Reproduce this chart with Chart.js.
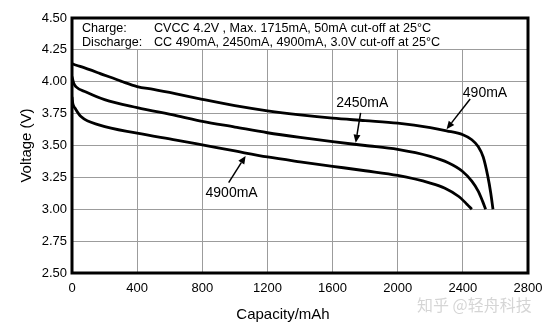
<!DOCTYPE html>
<html>
<head>
<meta charset="utf-8">
<script src="https://cdn.jsdelivr.net/npm/chart.js@4/dist/chart.umd.min.js"></script>
<style>
  html, body { margin: 0; padding: 0; background: #fff; }
  #wrap { width: 553px; height: 329px; position: relative; }
</style>
</head>
<body>
<div id="wrap"><canvas id="c" width="553" height="329"></canvas></div>
<script>
// ---- data ----
const cap490 = [0, 50, 170, 300, 400, 500, 640, 800, 1000, 1200, 1400, 1600, 1800, 2000, 2200, 2300, 2400, 2455, 2495, 2525, 2553, 2571, 2585];
const volt490 = [4.14, 4.12, 4.066, 4.005, 3.962, 3.94, 3.905, 3.862, 3.812, 3.772, 3.74, 3.714, 3.695, 3.675, 3.64, 3.615, 3.584, 3.545, 3.49, 3.41, 3.26, 3.13, 3.00];

const cap2450 = [0, 10, 25, 86, 200, 400, 640, 800, 1000, 1200, 1400, 1600, 1800, 2000, 2200, 2310, 2395, 2455, 2495, 2522, 2540];
const volt2450 = [4.04, 3.99, 3.96, 3.92, 3.86, 3.797, 3.735, 3.69, 3.645, 3.60, 3.563, 3.53, 3.50, 3.47, 3.415, 3.365, 3.30, 3.22, 3.14, 3.06, 3.00];

const cap4900 = [0, 5, 20, 55, 170, 400, 640, 800, 1000, 1200, 1400, 1600, 1800, 2000, 2200, 2290, 2375, 2425, 2455];
const volt4900 = [3.88, 3.83, 3.79, 3.727, 3.66, 3.597, 3.543, 3.505, 3.457, 3.41, 3.372, 3.337, 3.302, 3.265, 3.205, 3.165, 3.10, 3.04, 3.00];

const seriesNames = ['490mA', '2450mA', '4900mA'];
const xTicks = [0, 400, 800, 1200, 1600, 2000, 2400, 2800];
const yTicks = ['2.50', '2.75', '3.00', '3.25', '3.50', '3.75', '4.00', '4.25', '4.50'];

const headerLabels = ['Charge:', 'Discharge:'];
const headerTexts = ['CVCC 4.2V , Max. 1715mA, 50mA cut-off at 25°C', 'CC 490mA, 2450mA, 4900mA, 3.0V cut-off at 25°C'];

// annotation label anchors (data units): label centre, arrow tail, arrow head
const annLabels = ['490mA', '2450mA', '4900mA'];
const annLabelX = [2536, 1782, 980];
const annLabelY = [3.912, 3.834, 3.13];
const annTailX = [2445, 1772, 962];
const annTailY = [3.865, 3.755, 3.209];
const annHeadX = [2300, 1742, 1066];
const annHeadY = [3.628, 3.522, 3.418];

const xTitle = 'Capacity/mAh';
const yTitle = 'Voltage (V)';
const watermark = '知乎 @轻舟科技';

// ---- build ----
const FONT = "'Liberation Sans', Arial, Helvetica, sans-serif";
function pts(xs, ys) { return xs.map((x, i) => ({ x: x, y: ys[i] })); }

const boxPlugin = {
  id: 'boxPlugin',
  beforeDatasetsDraw(chart) {
    const { ctx, chartArea: a, scales } = chart;
    const yb = scales.y.getPixelForValue(4.25);
    ctx.save();
    ctx.fillStyle = '#fff';
    ctx.fillRect(a.left, a.top, a.right - a.left, Math.floor(yb) - a.top);
    ctx.fillStyle = '#000';
    ctx.font = '12.6px ' + FONT;
    ctx.textBaseline = 'middle';
    ctx.textAlign = 'left';
    const rowY = [a.top + 10.5, a.top + 24.8];
    for (let i = 0; i < headerLabels.length; i++) {
      ctx.fillText(headerLabels[i], a.left + 10, rowY[i]);
      ctx.fillText(headerTexts[i], a.left + 82, rowY[i]);
    }
    ctx.restore();
  },
  afterDatasetsDraw(chart) {
    const { ctx, chartArea: a, scales } = chart;
    const sx = scales.x, sy = scales.y;
    ctx.save();
    // frame
    ctx.strokeStyle = '#000';
    ctx.lineWidth = 3;
    ctx.strokeRect(a.left, a.top, a.right - a.left, a.bottom - a.top);
    // annotations
    ctx.font = '14px ' + FONT;
    ctx.textAlign = 'center';
    ctx.textBaseline = 'middle';
    ctx.fillStyle = '#000';
    for (let i = 0; i < annLabels.length; i++) {
      ctx.fillText(annLabels[i], sx.getPixelForValue(annLabelX[i]), sy.getPixelForValue(annLabelY[i]));
      const x1 = sx.getPixelForValue(annTailX[i]), y1 = sy.getPixelForValue(annTailY[i]);
      const x2 = sx.getPixelForValue(annHeadX[i]), y2 = sy.getPixelForValue(annHeadY[i]);
      const ang = Math.atan2(y2 - y1, x2 - x1);
      const L = 8, W = 3.5;
      const bx = x2 - L * Math.cos(ang), by = y2 - L * Math.sin(ang);
      ctx.lineWidth = 1.5;
      ctx.beginPath();
      ctx.moveTo(x1, y1);
      ctx.lineTo(bx, by);
      ctx.stroke();
      ctx.beginPath();
      ctx.moveTo(x2, y2);
      ctx.lineTo(bx + W * Math.sin(ang), by - W * Math.cos(ang));
      ctx.lineTo(bx - W * Math.sin(ang), by + W * Math.cos(ang));
      ctx.closePath();
      ctx.fill();
    }
    // x axis title
    ctx.font = '15px ' + FONT;
    ctx.fillText(xTitle, 283, 315);
    // watermark
    ctx.fillStyle = 'rgba(150,150,150,0.4)';
    ctx.font = "16px 'Noto Sans CJK SC', sans-serif";
    ctx.textAlign = 'left';
    ctx.fillText(watermark, 417, 305);
    ctx.restore();
  }
};

new Chart(document.getElementById('c'), {
  type: 'line',
  data: {
    datasets: [
      { label: seriesNames[0], data: pts(cap490, volt490) },
      { label: seriesNames[1], data: pts(cap2450, volt2450) },
      { label: seriesNames[2], data: pts(cap4900, volt4900) }
    ].map(d => Object.assign(d, {
      borderColor: '#000', borderWidth: 2.8, pointRadius: 0, fill: false,
      cubicInterpolationMode: 'monotone', borderCapStyle: 'butt', borderJoinStyle: 'round'
    }))
  },
  options: {
    responsive: false,
    animation: false,
    devicePixelRatio: 1,
    layout: { padding: { left: 14, top: 18, right: 25, bottom: 1 } },
    plugins: { legend: { display: false }, tooltip: { enabled: false } },
    scales: {
      x: {
        type: 'linear', min: 0, max: 2800,
        afterBuildTicks(s) { s.ticks = xTicks.map(v => ({ value: v })); },
        afterFit(s) { s.height = 55; },
        grid: { color: '#9c9c9c', lineWidth: 1, drawTicks: false },
        border: { display: false },
        ticks: { color: '#000', font: { size: 13, family: FONT }, padding: 8, maxRotation: 0, callback: v => String(v) }
      },
      y: {
        type: 'linear', min: 2.5, max: 4.5,
        afterBuildTicks(s) { s.ticks = yTicks.map(v => ({ value: parseFloat(v) })); },
        afterFit(s) { s.width = 58; },
        grid: { color: '#9c9c9c', lineWidth: 1, drawTicks: false },
        border: { display: false },
        ticks: { color: '#000', font: { size: 13, family: FONT }, padding: 5, callback: v => Number(v).toFixed(2) },
        title: { display: true, text: yTitle, color: '#000', font: { size: 15, family: FONT }, padding: { top: 4, bottom: 4 } }
      }
    }
  },
  plugins: [boxPlugin]
});
</script>
</body>
</html>
